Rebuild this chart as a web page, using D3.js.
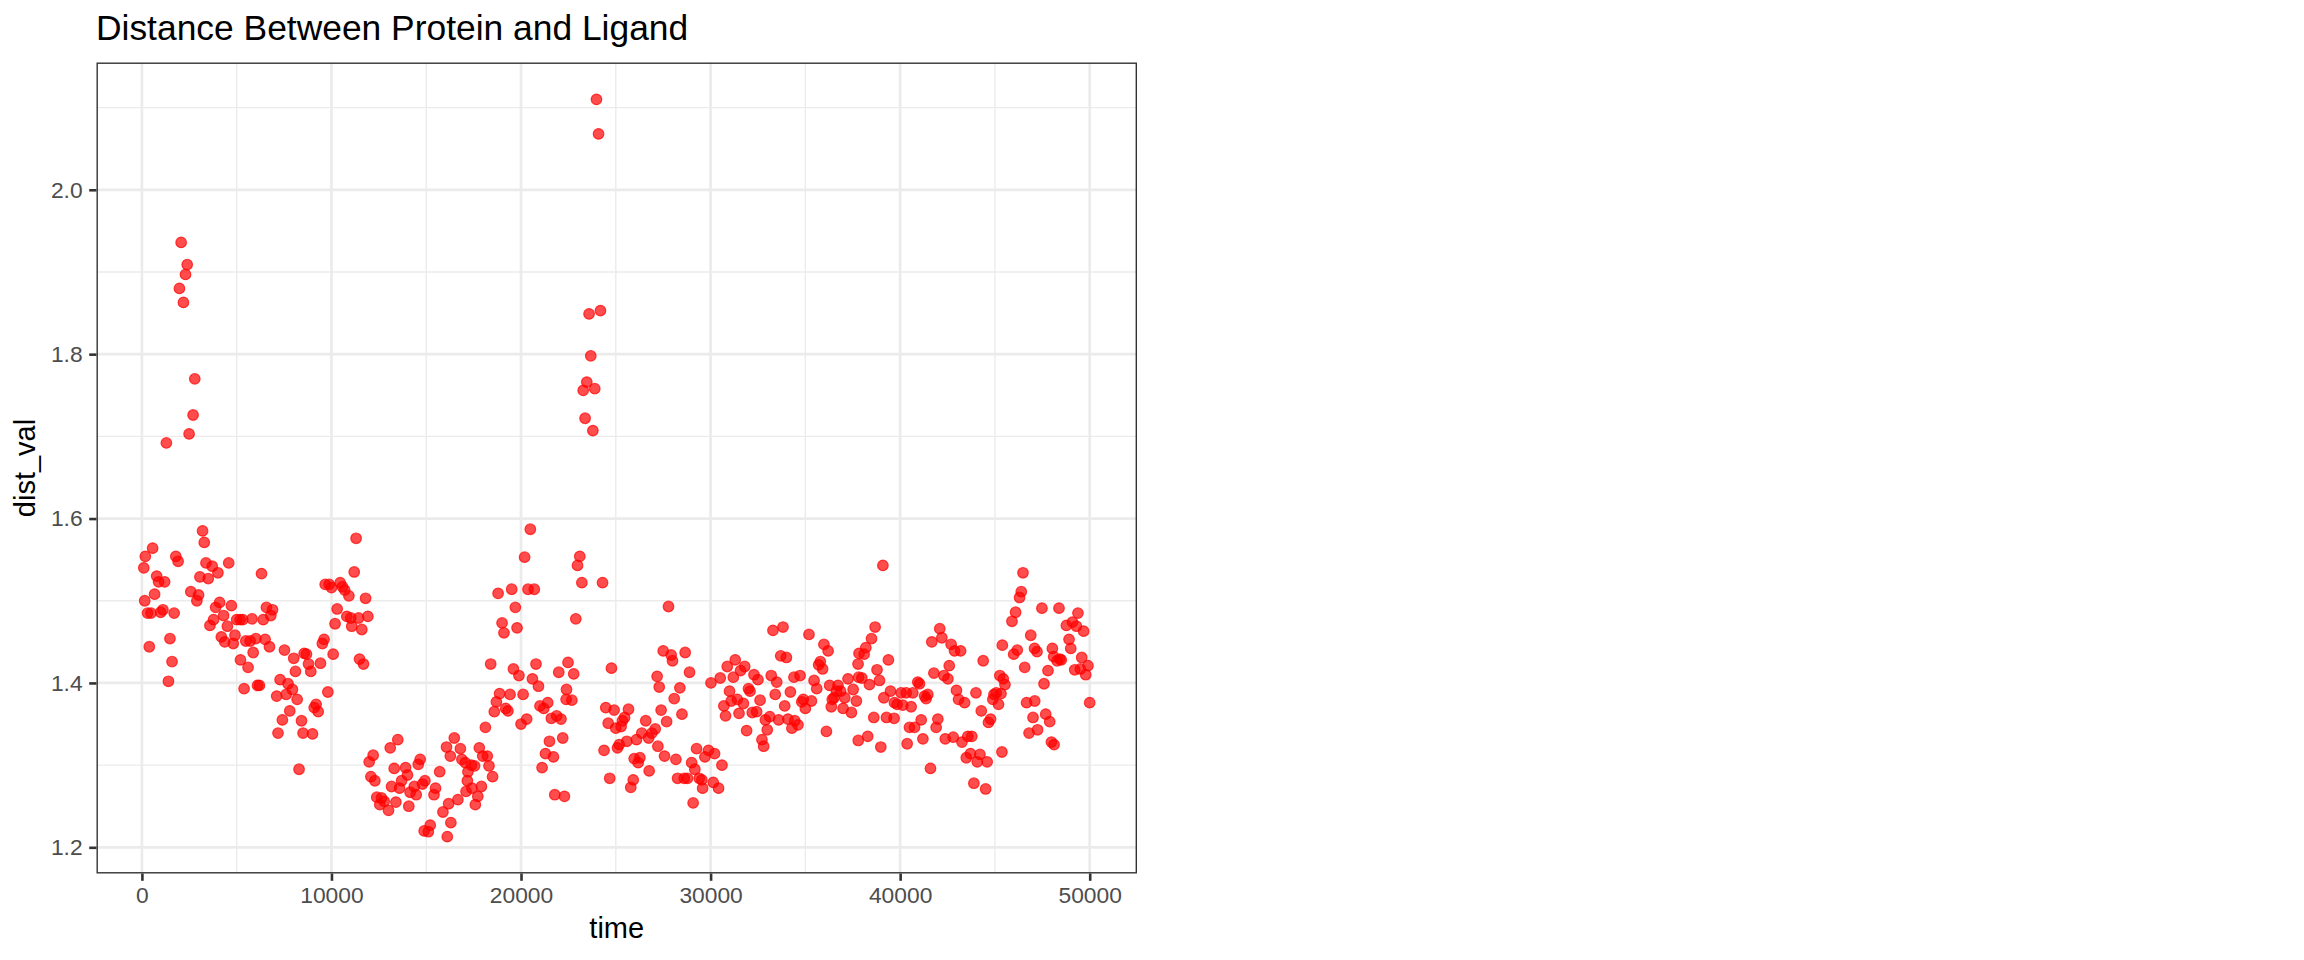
<!DOCTYPE html>
<html>
<head>
<meta charset="utf-8">
<script src="https://cdn.jsdelivr.net/npm/d3@7"></script>
<style>
  html, body { margin: 0; padding: 0; background: #ffffff; }
  svg { display: block; }
  text { font-family: "Liberation Sans", Arial, Helvetica, sans-serif; }
</style>
</head>
<body>
<svg id="chart" width="2304" height="960"></svg>
<script>
// ---------------- DATA ----------------
const chartTitle = "Distance Between Protein and Ligand";
const xTitle = "time";
const yTitle = "dist_val";

const xTickValues = [0, 10000, 20000, 30000, 40000, 50000];
const xMinorValues = [5000, 15000, 25000, 35000, 45000];
const yTickValues = [1.2, 1.4, 1.6, 1.8, 2.0];
const yMinorValues = [1.3, 1.5, 1.7, 1.9, 2.1];

const time = [
  100,150,180,300,390,480,565,670,780,880,990,1110,1200,1290,1400,1480,1590,1700,1790,1910,
  1980,2070,2190,2300,2390,2490,2580,2700,2790,2900,2990,3060,3200,3290,3380,3500,3590,3710,3780,3890,
  4010,4100,4190,4310,4370,4510,4580,4720,4820,4910,5000,5180,5200,5320,5390,5480,5600,5710,5810,5870,
  6010,6100,6200,6310,6400,6500,6570,6730,6800,6890,
  7110,7180,7290,7410,7520,7610,7710,7800,7940,8010,8100,8190,8290,8420,8500,8560,8680,8790,8910,9000,
  9090,9190,9300,9420,9520,9610,9670,9810,9880,10000,10090,10190,10300,10460,10580,10700,10810,10920,11020,11070,
  11200,11300,11430,11480,11600,11690,11800,11920,11990,12080,12200,12290,12390,12550,12640,12780,13010,13100,13170,13310,
  13400,13500,13590,13700,13910,14010,14080,14150,14370,14470,14580,14680,14800,14890,
  14930,15110,15210,15410,15490,15710,15880,16070,16110,16180,16270,16300,16480,16670,16800,16880,17060,17100,17170,17200,
  17380,17410,17550,17590,17720,17800,17910,17980,18120,18220,18310,18400,18500,18590,18700,18790,18870,19000,19100,19190,
  19310,19420,19510,19600,19700,19790,19890,20000,20110,20190,20300,20370,20490,20600,20700,20790,20920,21000,21110,21200,
  21290,21410,21500,21600,21710,21780,21880,21990,22110,22200,22290,22380,22400,22480,
  22680,22780,22890,22980,23100,23210,23280,23380,23470,23590,23680,23790,23890,23980,24090,24190,24300,24380,24470,24600,
  24680,24770,24910,25000,25090,25180,25280,25350,25460,25580,25670,25790,25920,25970,26090,26180,26270,26370,26580,26730,
  26760,26900,27080,27180,27220,27290,27390,27500,27570,27680,27780,27920,27990,28080,28170,28260,28380,28490,28610,28660,
  28780,28890,29000,29080,29170,29260,29400,29540,29580,29700,29890,30020,30140,
  30210,30420,30510,30600,30700,30790,30880,31000,31090,31200,31300,31410,31500,31580,31730,31800,31900,32000,32080,32200,
  32290,32430,32500,32610,32710,32800,32890,32990,33120,33200,33290,33410,33490,33590,33700,33820,33910,34000,34080,34210,
  34290,34400,34440,34610,34720,34810,34890,35000,35190,35320,35460,35600,35700,35790,35910,35980,36110,36200,36280,36370,
  36420,36510,36640,36720,36860,36990,37080,37250,37430,37520,37690,37780,37810,37790,37830,
  37980,38100,38190,38290,38380,38490,38610,38680,38780,38910,38980,39090,39140,39280,39380,39490,39680,39700,39840,40050,
  40140,40320,40370,40490,40580,40670,40760,40930,41020,41110,41200,41290,41370,41460,41600,41670,41780,41900,41990,42090,
  42200,42310,42380,42520,42590,42690,42800,42870,42970,43080,43190,43260,43400,43490,43570,43710,43780,43890,44000,44070,
  44210,44280,44380,44510,44590,44660,44770,44890,44950,45070,45190,45260,45370,45390,
  45320,45440,45530,45900,45990,46090,46180,46300,46390,46480,46570,46670,46800,46890,47010,47090,47100,47220,47250,47480,
  47590,47680,47800,47890,47980,48030,48100,48120,48280,48380,48420,48500,48770,48910,49000,49090,49210,49300,49380,49510,
  49580,49680,49790,49910,50000
];

const dist_val = [
  1.540,1.500,1.554,1.485,1.444,1.485,1.564,1.508,1.530,1.523,1.486,1.489,1.523,1.692,1.402,1.454,1.426,1.485,1.554,1.548,
  1.880,1.936,1.863,1.897,1.909,1.703,1.511,1.726,1.770,1.500,1.507,1.529,1.585,1.571,1.546,1.527,1.470,1.542,1.477,1.492,
  1.534,1.498,1.456,1.482,1.450,1.469,1.546,1.494,1.448,1.458,1.477,1.477,1.428,1.477,1.393,1.451,1.419,1.451,1.478,1.437,
  1.454,1.397,1.397,1.533,1.477,1.453,1.492,1.444,1.482,1.489,
  1.384,1.339,1.404,1.355,1.440,1.386,1.399,1.366,1.392,1.430,1.414,1.380,1.295,1.354,1.339,1.436,1.435,1.423,1.414,1.338,
  1.370,1.374,1.365,1.424,1.448,1.453,1.520,1.389,1.520,1.516,1.435,1.472,1.490,1.522,1.517,1.513,1.481,1.506,1.479,1.469,
  1.535,1.576,1.479,1.429,1.465,1.423,1.503,1.481,1.304,1.286,1.312,1.281,1.261,1.252,1.260,1.256,1.245,1.321,1.274,1.296,
  1.255,1.331,1.272,1.281,1.297,1.288,1.250,1.267,1.274,1.264,1.301,1.307,1.277,1.220,
  1.281,1.219,1.227,1.264,1.272,1.292,1.243,1.322,1.213,1.253,1.311,1.230,1.333,1.258,1.320,1.307,1.303,1.268,1.281,1.292,
  1.300,1.272,1.299,1.252,1.262,1.321,1.274,1.311,1.346,1.311,1.299,1.423,1.286,1.365,1.377,1.509,1.387,1.473,1.461,1.369,
  1.366,1.386,1.514,1.417,1.492,1.467,1.409,1.350,1.386,1.553,1.356,1.514,1.587,1.405,1.514,1.423,1.396,1.372,1.297,1.369,
  1.314,1.376,1.329,1.357,1.310,1.264,1.360,1.413,1.356,1.333,1.262,1.380,1.392,1.425,
  1.379,1.411,1.478,1.543,1.554,1.522,1.756,1.722,1.766,1.849,1.798,1.707,1.758,2.110,2.068,1.853,1.522,1.318,1.370,1.351,
  1.284,1.418,1.367,1.345,1.321,1.325,1.347,1.354,1.358,1.329,1.368,1.273,1.282,1.308,1.331,1.303,1.309,1.339,1.354,1.333,
  1.293,1.339,1.344,1.408,1.323,1.395,1.367,1.439,1.311,1.353,1.493,1.434,1.427,1.381,1.307,1.284,1.394,1.362,1.284,1.437,
  1.284,1.413,1.303,1.254,1.295,1.320,1.284,1.282,1.272,1.310,1.318,1.400,1.279,
  1.314,1.272,1.406,1.300,1.372,1.360,1.420,1.390,1.378,1.407,1.428,1.380,1.363,1.415,1.375,1.420,1.342,1.393,1.390,1.364,
  1.410,1.365,1.404,1.379,1.331,1.323,1.355,1.343,1.359,1.409,1.464,1.386,1.401,1.355,1.433,1.468,1.372,1.431,1.356,1.389,
  1.345,1.407,1.354,1.349,1.409,1.377,1.380,1.369,1.459,1.378,1.403,1.393,1.422,1.426,1.417,1.447,1.341,1.439,1.397,1.371,
  1.380,1.382,1.390,1.397,1.390,1.369,1.382,1.405,1.364,1.392,1.378,1.423,1.407,1.330,1.436,
  1.406,1.435,1.443,1.335,1.398,1.454,1.358,1.468,1.416,1.403,1.322,1.543,1.382,1.358,1.428,1.390,1.357,1.376,1.374,1.388,
  1.373,1.388,1.326,1.346,1.371,1.388,1.346,1.401,1.399,1.355,1.332,1.384,1.381,1.386,1.296,1.450,1.412,1.346,1.356,1.466,
  1.455,1.409,1.332,1.405,1.421,1.447,1.334,1.439,1.391,1.380,1.439,1.328,1.376,1.309,1.335,1.314,1.335,1.278,1.388,1.304,
  1.313,1.366,1.427,1.271,1.304,1.352,1.356,1.380,1.386,1.388,1.374,1.409,1.316,1.446,
  1.387,1.405,1.398,1.475,1.435,1.486,1.440,1.504,1.511,1.534,1.419,1.376,1.339,1.458,1.358,1.442,1.378,1.438,1.343,1.491,
  1.399,1.362,1.415,1.353,1.328,1.442,1.432,1.325,1.427,1.491,1.429,1.428,1.470,1.453,1.442,1.474,1.416,1.469,1.485,1.417,
  1.431,1.463,1.410,1.421,1.376
];

// ---------------- LAYOUT ----------------
const panel = { left: 96.5, top: 62.5, right: 1137, bottom: 873.5 };
const pw = panel.right - panel.left, ph = panel.bottom - panel.top;

const data = time.map((t, i) => ({ t, v: dist_val[i] }));

function expand(ext, f) { const d = ext[1] - ext[0]; return [ext[0] - d * f, ext[1] + d * f]; }
const xExt = d3.extent(time), yExt = d3.extent(dist_val);
const x = d3.scaleLinear().domain(expand(xExt, 0.05)).range([panel.left, panel.right]);
const y = d3.scaleLinear().domain(expand(yExt, 0.05)).range([panel.bottom, panel.top]);

const svg = d3.select("#chart");
svg.append("rect").attr("width", 2304).attr("height", 960).attr("fill", "#ffffff");

svg.append("defs").append("clipPath").attr("id", "pclip")
  .append("rect").attr("x", panel.left).attr("y", panel.top).attr("width", pw).attr("height", ph);

const g = svg.append("g").attr("clip-path", "url(#pclip)");
g.append("rect").attr("x", panel.left).attr("y", panel.top).attr("width", pw).attr("height", ph).attr("fill", "#ffffff");

const gridColor = "#EBEBEB";
// minor grid
g.selectAll("line.xminor").data(xMinorValues).join("line")
  .attr("x1", d => x(d)).attr("x2", d => x(d)).attr("y1", panel.top).attr("y2", panel.bottom)
  .attr("stroke", gridColor).attr("stroke-width", 1.35);
g.selectAll("line.yminor").data(yMinorValues).join("line")
  .attr("y1", d => y(d)).attr("y2", d => y(d)).attr("x1", panel.left).attr("x2", panel.right)
  .attr("stroke", gridColor).attr("stroke-width", 1.35);
// major grid
g.selectAll("line.xmajor").data(xTickValues).join("line")
  .attr("x1", d => x(d)).attr("x2", d => x(d)).attr("y1", panel.top).attr("y2", panel.bottom)
  .attr("stroke", gridColor).attr("stroke-width", 2.7);
g.selectAll("line.ymajor").data(yTickValues).join("line")
  .attr("y1", d => y(d)).attr("y2", d => y(d)).attr("x1", panel.left).attr("x2", panel.right)
  .attr("stroke", gridColor).attr("stroke-width", 2.7);

// points
g.selectAll("circle").data(data).join("circle")
  .attr("cx", d => x(d.t)).attr("cy", d => y(d.v)).attr("r", 5.3)
  .attr("fill", "#FF0000").attr("fill-opacity", 0.7)
  .attr("stroke", "#FF0000").attr("stroke-opacity", 0.7).attr("stroke-width", 1.2);

// panel border (half of a 2.8px line visible inside the panel)
svg.append("rect").attr("x", panel.left + 0.7).attr("y", panel.top + 0.7)
  .attr("width", pw - 1.4).attr("height", ph - 1.4)
  .attr("fill", "none").attr("stroke", "#333333").attr("stroke-width", 1.4);

// axes
const tickLen = 7.3, tickPad = 5.6;
const xAxis = d3.axisBottom(x).tickValues(xTickValues).tickFormat(d => String(d))
  .tickSizeInner(tickLen).tickSizeOuter(0).tickPadding(tickPad);
const yAxis = d3.axisLeft(y).tickValues(yTickValues).tickFormat(d3.format(".1f"))
  .tickSizeInner(tickLen).tickSizeOuter(0).tickPadding(tickPad + 1);

const gx = svg.append("g").attr("transform", `translate(0,${panel.bottom})`).call(xAxis);
const gy = svg.append("g").attr("transform", `translate(${panel.left},0)`).call(yAxis);
[gx, gy].forEach(a => {
  a.select(".domain").remove();
  a.selectAll(".tick line").attr("stroke", "#333333").attr("stroke-width", 2.6);
  a.selectAll(".tick text").attr("fill", "#4D4D4D").attr("font-size", 22.8)
    .attr("font-family", "'Liberation Sans', Arial, Helvetica, sans-serif");
});

// titles
svg.append("text").attr("x", 96).attr("y", 40).attr("font-size", 35.4).attr("fill", "#000000")
  .text(chartTitle);
svg.append("text").attr("x", (panel.left + panel.right) / 2).attr("y", 938)
  .attr("text-anchor", "middle").attr("font-size", 29).attr("fill", "#000000").text(xTitle);
svg.append("text").attr("transform", `translate(35,${(panel.top + panel.bottom) / 2}) rotate(-90)`)
  .attr("text-anchor", "middle").attr("font-size", 29).attr("fill", "#000000").text(yTitle);
</script>
</body>
</html>
